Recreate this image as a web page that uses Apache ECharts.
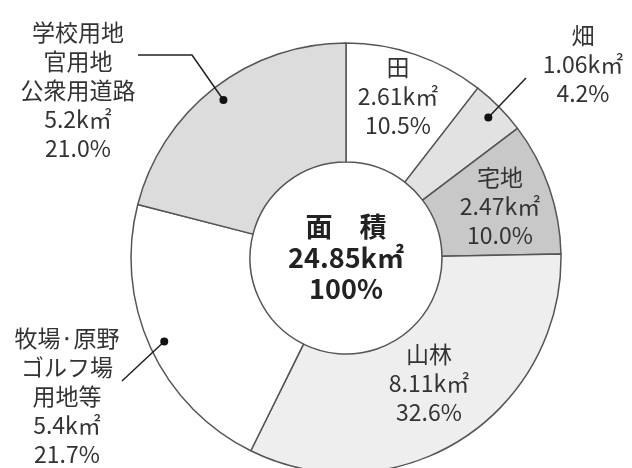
<!DOCTYPE html>
<html>
<head>
<meta charset="utf-8">
<script src="https://cdn.jsdelivr.net/npm/echarts@6/dist/echarts.min.js"></script>
<style>
  html, body { margin: 0; padding: 0; background: #fff; }
  #chart { width: 632px; height: 468px; }
</style>
</head>
<body>
<div id="chart"></div>
<script>
// Land-use breakdown (area in km² and share in %)
const categories = ['田', '畑', '宅地', '山林', '牧場·原野\nゴルフ場\n用地等', '学校用地\n官用地\n公衆用道路'];
const areaKm = [2.61, 1.06, 2.47, 8.11, 5.4, 5.2];
const sharePct = [10.5, 4.2, 10.0, 32.6, 21.7, 21.0];
const totalArea = '24.85';
const totalShare = '100%';

const sliceColors = ['#ffffff', '#e2e2e2', '#c8c8c8', '#eeeeee', '#ffffff', '#dcdcdc'];
const insideSlices = [0, 2, 3];

const CX = 346, CY = 258, R_IN = 96, R_OUT = 215, R_DOT = 200;

// Label centres; outside labels also get a leader-line path (elbow/end)
const labelLayoutMap = {
  0: { x: 398, y: 96 },
  1: { x: 583, y: 64, path: [[526, 78]] },
  2: { x: 500, y: 206 },
  3: { x: 429, y: 383 },
  4: { x: 67, y: 396, path: [[122, 381]] },
  5: { x: 78, y: 90, path: [[192, 55], [138, 55]] }
};

const total = sharePct.reduce((a, b) => a + b, 0);
function midPoint(i, r) {
  let before = 0;
  for (let k = 0; k < i; k++) before += sharePct[k];
  const frac = (before + sharePct[i] / 2) / total;
  const a = frac * Math.PI * 2; // clockwise from 12 o'clock
  return [CX + r * Math.sin(a), CY - r * Math.cos(a)];
}

const data = categories.map((name, i) => {
  const inside = insideSlices.indexOf(i) >= 0;
  return {
    name: name,
    value: sharePct[i],
    itemStyle: { color: sliceColors[i] },
    label: { position: inside ? 'inside' : 'outside' }
  };
});

// Leader lines with a dot at the slice end
const leaders = [];
Object.keys(labelLayoutMap).forEach(k => {
  const lay = labelLayoutMap[k];
  if (!lay.path) return;
  const p = midPoint(+k, R_DOT);
  leaders.push({
    type: 'polyline', z: 100,
    shape: { points: [p].concat(lay.path) },
    style: { stroke: '#222', lineWidth: 1.5, fill: null }
  });
  leaders.push({
    type: 'circle', z: 101,
    shape: { cx: p[0], cy: p[1], r: 4 },
    style: { fill: '#111' }
  });
});

const chart = echarts.init(document.getElementById('chart'), null, { renderer: 'canvas' });
chart.setOption({
  backgroundColor: '#ffffff',
  animation: false,
  series: [{
    type: 'pie',
    center: [CX, CY],
    radius: [R_IN, R_OUT],
    startAngle: 90,
    clockwise: true,
    avoidLabelOverlap: false,
    silent: true,
    data: data,
    itemStyle: { borderColor: '#555', borderWidth: 1.5 },
    label: {
      color: '#333',
      fontFamily: '"Noto Sans CJK JP", "Noto Sans", sans-serif',
      fontSize: 23,
      lineHeight: 29,
      align: 'center',
      formatter: p => {
        const i = p.dataIndex;
        return categories[i] + '\n' + areaKm[i] + 'k㎡\n' + sharePct[i].toFixed(1) + '%';
      }
    },
    labelLine: { show: false },
    labelLayout: params => {
      const lay = labelLayoutMap[params.dataIndex];
      if (!lay) return {};
      return { x: lay.x, y: lay.y, align: 'center', verticalAlign: 'middle' };
    }
  }],
  graphic: leaders.concat([{
    type: 'text',
    x: CX,
    y: CY,
    z: 100,
    style: {
      text: '面　積\n' + totalArea + 'k㎡\n' + totalShare,
      fill: '#222',
      fontFamily: '"Noto Sans CJK JP", "Noto Sans", sans-serif',
      fontWeight: 'bold',
      fontSize: 27,
      lineHeight: 31,
      align: 'center',
      verticalAlign: 'middle'
    }
  }])
});
</script>
</body>
</html>
